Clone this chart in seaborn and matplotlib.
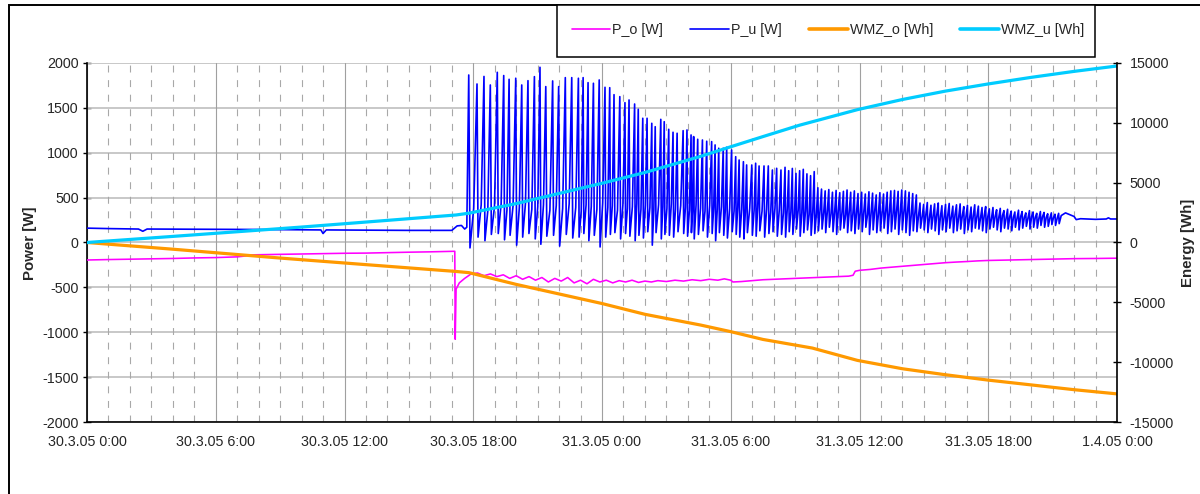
import numpy as np
import pandas as pd
import matplotlib
matplotlib.use("Agg")
import matplotlib.pyplot as plt
from matplotlib.patches import Rectangle
from matplotlib.lines import Line2D
import seaborn as sns

# ---------------------------------------------------------------------------
# Axis ticks (time in hours since 30.3.05 0:00)
# ---------------------------------------------------------------------------
x_tick_hours = [0, 6, 12, 18, 24, 30, 36, 42, 48]
x_tick_labels = ["30.3.05 0:00", "30.3.05 6:00", "30.3.05 12:00", "30.3.05 18:00",
                 "31.3.05 0:00", "31.3.05 6:00", "31.3.05 12:00", "31.3.05 18:00",
                 "1.4.05 0:00"]
power_ticks = [-2000, -1500, -1000, -500, 0, 500, 1000, 1500, 2000]
energy_ticks = [-15000, -10000, -5000, 0, 5000, 10000, 15000]

# ---------------------------------------------------------------------------
# P_o [W]
# ---------------------------------------------------------------------------
p_o_hours = [0, 1, 2, 3, 4, 5, 6, 7, 7.4, 7.6, 9, 10, 11, 12, 13, 14, 15, 16, 17.1,
             17.14, 17.16, 17.2, 17.35, 17.6, 17.9, 18.2, 18.5, 18.8, 19.1, 19.4,
             19.7, 20.0, 20.3, 20.6, 20.9, 21.2, 21.5, 21.8, 22.1, 22.4, 22.7, 23.0,
             23.3, 23.6, 23.9, 24.2, 24.5, 24.8, 25.1, 25.4, 25.7, 26.0, 26.3, 26.6,
             27.0, 27.4, 27.8, 28.2, 28.6, 29.0, 29.4, 29.7, 30.0, 30.1, 30.5, 31.0,
             31.5, 32.0, 32.5, 33.0, 33.5, 34.0, 34.5, 35.0, 35.5, 35.7, 35.8, 36.0,
             36.5, 37.0, 37.5, 38.0, 38.5, 39.0, 39.5, 40.0, 40.5, 41.0, 41.5, 42.0,
             43.0, 44.0, 45.0, 46.0, 47.0, 48.0]
p_o_watts = [-195, -190, -186, -182, -178, -172, -168, -160, -150, -138, -132, -128,
             -124, -120, -118, -113, -108, -104, -98,
             -98, -1078, -520, -450, -400, -350, -340, -370, -350, -380, -360,
             -400, -370, -410, -380, -420, -390, -440, -400, -430, -390, -450, -420,
             -460, -410, -440, -420, -450, -425, -440, -420, -445, -430, -440, -425,
             -435, -420, -430, -415, -425, -410, -420, -405, -420, -440, -435, -425,
             -415, -410, -405, -400, -395, -390, -385, -380, -375, -365, -320, -310,
             -300, -285, -275, -265, -255, -245, -235, -225, -218, -212, -205, -200,
             -195, -190, -185, -180, -178, -175]

# ---------------------------------------------------------------------------
# P_u [W]: steady part, then one peak/trough/mid triple per oscillation
# ---------------------------------------------------------------------------
p_u_pre_hours = [0.0, 1.0, 2.4, 2.6, 2.8, 5.0, 8.0, 10.9, 11.0, 11.15, 13.0, 15.0,
                 17.0, 17.25, 17.45, 17.6, 17.7]
p_u_pre_watts = [160, 155, 150, 125, 150, 148, 145, 140, 100, 140, 138, 135,
                 135, 185, 190, 150, 170]

p_u_peak_hours = [17.79, 18.175, 18.50, 18.795, 19.12, 19.42, 19.67, 19.98, 20.26,
                  20.55, 20.85, 21.11, 21.38, 21.70, 21.98, 22.29, 22.59, 22.90,
                  23.12, 23.35, 23.60, 23.87, 24.14, 24.36, 24.56, 24.83, 25.07,
                  25.26, 25.52, 25.69, 25.90, 26.10, 26.32, 26.48, 26.74, 26.90,
                  27.11, 27.31, 27.50, 27.78, 27.96, 28.15, 28.27, 28.46, 28.68,
                  28.88, 29.11, 29.27, 29.44, 29.65, 29.81, 30.04, 30.23, 30.39,
                  30.59, 30.74, 30.98, 31.16, 31.32, 31.55, 31.75, 31.94, 32.14,
                  32.34, 32.53,
                  32.70, 32.87, 33.04, 33.21, 33.38, 33.55, 33.72, 33.89, 34.06,
                  34.23, 34.40, 34.57, 34.74, 34.91, 35.08, 35.25, 35.42, 35.59,
                  35.76, 35.93, 36.10, 36.27, 36.44, 36.61, 36.78, 36.95, 37.12,
                  37.29, 37.46, 37.63, 37.80, 37.97, 38.14, 38.31, 38.48, 38.65,
                  38.82, 38.99, 39.16, 39.33, 39.50, 39.67, 39.84, 40.01, 40.18,
                  40.35, 40.52, 40.69, 40.86, 41.03, 41.20, 41.37, 41.54, 41.71,
                  41.88, 42.05, 42.22, 42.39, 42.56, 42.73, 42.90, 43.07, 43.24,
                  43.41, 43.58, 43.75, 43.92, 44.09, 44.26, 44.43, 44.60, 44.77,
                  44.94, 45.11, 45.28]
p_u_peak_watts = [1866, 1766, 1850, 1755, 1896, 1860, 1818, 1830, 1755, 1803, 1848,
                  1952, 1737, 1800, 1737, 1837, 1837, 1830, 1837, 1781, 1774, 1811,
                  1729, 1725, 1647, 1625, 1558, 1588, 1543, 1484, 1384, 1384, 1328,
                  1290, 1372, 1346, 1261, 1228, 1217, 1246, 1254, 1198, 1180, 1150,
                  1142, 1128, 1124, 1087, 1050, 1050, 1061, 1031, 956, 919, 900,
                  864, 864, 883, 853, 853, 853, 808, 827, 808, 838,
                  800, 825, 770, 800, 815, 765, 745, 790, 610, 595, 575, 590, 560,
                  580, 555, 570, 585, 560, 575, 545, 560, 540, 565, 550, 530, 555,
                  540, 560, 575, 580, 570, 585, 575, 560, 545, 530, 440, 425, 445,
                  415, 430, 440, 410, 425, 435, 405, 420, 430, 400, 415, 395, 420,
                  405, 390, 400, 375, 390, 365, 380, 355, 370, 350, 340, 360, 345,
                  330, 355, 340, 325, 345, 335, 320, 330, 315, 325]
p_u_trough_watts = [-60, 60, 20, 90, 100, 30, 80, -30, 60, 100, 40, -20, 70, 80,
                    -40, 90, 50, 60, 100, 20, 80, -50, 60, 90, 110, 40, 100, 70,
                    20, 80, 50, 120, -30, 110, 40, 90, 80, 60, 120, 100, 70, 110,
                    40, 90, 130, 60, 100, 20, 110, 80, 50, 120, 90, 60, 40, 110,
                    80, 70, 130, 60, 100, 120, 70, 90, 60,
                    120, 90, 150, 70, 110, 140, 80, 100, 130, 150, 110, 170, 120,
                    90, 140, 160, 110, 130, 100, 150, 120, 170, 90, 140, 110, 130,
                    160, 100, 120, 150, 90, 140, 110, 80, 130, 120, 160, 140, 110,
                    150, 130, 90, 140, 120, 160, 110, 130, 150, 100, 140, 120, 160,
                    150, 130, 110, 150, 170, 140, 120, 160, 150, 130, 170, 140, 160,
                    180, 150, 170, 160, 190, 170, 180, 200, 190, 210]
p_u_mid_watts = [380, 420, 350, 400, 430, 360, 410, 390, 440, 370, 400, 420, 360,
                 410, 380, 430, 390, 350, 420, 400, 370, 440, 390, 410, 360, 420,
                 380, 400, 430, 370, 410, 390, 360, 420, 400, 380, 430, 370, 410,
                 390, 360, 400, 420, 380, 350, 410, 390, 370, 400, 360, 380, 350,
                 390, 370, 340, 380, 360, 390, 350, 370, 340, 380, 360, 330, 370,
                 340, 320, 360, 330, 350, 310, 340, 320, 360, 330, 350, 320, 340,
                 360, 330, 310, 350, 320, 340, 330, 350, 310, 340, 360, 320, 330,
                 350, 340, 320, 360, 330, 350, 340, 310, 330, 300, 290, 310, 280,
                 300, 310, 290, 280, 300, 290, 310, 280, 300, 290, 270, 300, 290,
                 280, 300, 290, 270, 290, 280, 300, 270, 290, 280, 270, 290, 280,
                 270, 290, 280, 270, 290, 280, 270, 280, 270, 280]

p_u_tail_hours = [45.4, 45.6, 45.8, 46.0, 46.1, 46.3, 46.6, 47.0, 47.5, 47.6, 47.7, 48.0]
p_u_tail_watts = [300, 330, 310, 290, 255, 265, 262, 258, 262, 275, 262, 262]

# ---------------------------------------------------------------------------
# Heat meter readings [Wh]
# ---------------------------------------------------------------------------
wmz_o_hours = [0, 4, 9, 13, 17.2, 17.8, 20, 24, 26, 28.6, 30, 31.5, 33.8, 35.9,
               38, 40, 42, 44, 46, 48]
wmz_o_wh = [0, -560, -1300, -1850, -2420, -2520, -3500, -5100, -6000, -6900, -7450,
            -8100, -8820, -9850, -10550, -11050, -11500, -11900, -12300, -12650]

wmz_u_hours = [0, 4, 7, 10, 13.65, 17.2, 17.8, 20, 24, 26, 28.6, 30, 31.5, 33.2,
               35.9, 38, 40, 42, 44, 46, 48]
wmz_u_wh = [0, 510, 900, 1290, 1800, 2300, 2450, 3250, 4950, 5850, 7200, 8000,
            8850, 9800, 11100, 11950, 12650, 13250, 13800, 14300, 14750]

# ---------------------------------------------------------------------------
# Assemble the oscillating P_u trace
# ---------------------------------------------------------------------------
pu_t = list(p_u_pre_hours)
pu_v = list(p_u_pre_watts)
n_cycles = len(p_u_peak_hours)
for i in range(n_cycles):
    t0 = p_u_peak_hours[i]
    span = (p_u_peak_hours[i + 1] - t0) if i + 1 < n_cycles else 0.17
    pu_t += [t0, t0 + 0.15 * span, t0 + 0.6 * span]
    pu_v += [p_u_peak_watts[i], p_u_trough_watts[i], p_u_mid_watts[i]]
pu_t += p_u_tail_hours
pu_v += p_u_tail_watts

df_po = pd.DataFrame({"t": p_o_hours, "v": p_o_watts})
df_pu = pd.DataFrame({"t": pu_t, "v": pu_v})
df_wo = pd.DataFrame({"t": wmz_o_hours, "v": wmz_o_wh})
df_wu = pd.DataFrame({"t": wmz_u_hours, "v": wmz_u_wh})

# ---------------------------------------------------------------------------
# Styling
# ---------------------------------------------------------------------------
sns.set_style("white")
plt.rcParams["font.family"] = ["Liberation Sans", "DejaVu Sans"]
plt.rcParams["lines.scale_dashes"] = False

C_PO, C_PU, C_WO, C_WU = "#FF00FF", "#0000FF", "#FF9900", "#00CCFF"
FS = 10.3

W, H = 1200, 494
fig = plt.figure(figsize=(12, 4.94), dpi=100)
L, R, T, B = 87, 1117, 63, 422
ax = fig.add_axes([L / W, 1 - B / H, (R - L) / W, (B - T) / H])
ax.set_facecolor("white")

sns.lineplot(data=df_po, x="t", y="v", ax=ax, color=C_PO, lw=1.15,
             estimator=None, sort=False, zorder=3)
sns.lineplot(data=df_pu, x="t", y="v", ax=ax, color=C_PU, lw=1.2,
             estimator=None, sort=False, zorder=3)

ax.set_xlim(0, 48)
ax.set_ylim(-2000, 2000)
ax.set_xticks(x_tick_hours)
ax.set_xticklabels(x_tick_labels, fontsize=FS)
ax.set_xticks(range(0, 49), minor=True)
ax.set_yticks(power_ticks)
ax.set_yticklabels([str(v) for v in power_ticks], fontsize=FS)
ax.set_xlabel("")
ax.set_ylabel("")

ax.grid(False)
for v in power_ticks:
    ax.axhline(v, color="#C4C4C4", lw=1.3, zorder=1)
for h in range(0, 49):
    if h % 6 == 0:
        ax.axvline(h, color="#A0A0A0", lw=0.8, zorder=1)
    else:
        ax.axvline(h, color="#A8A8A8", lw=0.8, ls=(0, (5, 5.5)), zorder=1)

ax.tick_params(axis="x", which="major", direction="inout", length=6, width=1,
               color="black", pad=6)
ax.tick_params(axis="x", which="minor", length=0)
ax.tick_params(axis="y", direction="inout", length=6, width=1, color="black", pad=3)
for side in ["left", "bottom"]:
    ax.spines[side].set_color("black")
    ax.spines[side].set_linewidth(1.2)
ax.spines["top"].set_visible(False)
ax.spines["right"].set_visible(False)

ax2 = ax.twinx()
sns.lineplot(data=df_wo, x="t", y="v", ax=ax2, color=C_WO, lw=2.3,
             estimator=None, sort=False)
sns.lineplot(data=df_wu, x="t", y="v", ax=ax2, color=C_WU, lw=2.3,
             estimator=None, sort=False)
ax2.set_ylim(-15000, 15000)
ax2.set_yticks(energy_ticks)
ax2.set_yticklabels([str(v) for v in energy_ticks], fontsize=FS)
ax2.set_ylabel("")
ax2.set_xlabel("")
ax2.grid(False)
ax2.tick_params(axis="y", direction="inout", length=6, width=1, color="black", pad=6)
ax2.spines["right"].set_color("black")
ax2.spines["right"].set_linewidth(1.2)
for side in ["top", "left", "bottom"]:
    ax2.spines[side].set_visible(False)

# axis titles
fig.text(30 / W, 1 - 243 / H, "Power [W]", rotation=90, fontsize=FS + 0.5,
         fontweight="bold", ha="center", va="center")
fig.text(1188 / W, 1 - 243 / H, "Energy [Wh]", rotation=90, fontsize=FS + 0.5,
         fontweight="bold", ha="center", va="center")

# chart frame
fig.add_artist(Rectangle((9 / W, -0.1), 1.2, 1 - 5.5 / H + 0.1,
                         transform=fig.transFigure, fill=False, ec="black", lw=1.4))

# legend box
fig.add_artist(Rectangle((557 / W, 1 - 57 / H), (1095 - 557) / W, (57 - 5.5) / H,
                         transform=fig.transFigure, fill=True, fc="white",
                         ec="black", lw=1.1, zorder=5))
handles = [Line2D([], [], color=C_PO, lw=1.2), Line2D([], [], color=C_PU, lw=1.2),
           Line2D([], [], color=C_WO, lw=2.6), Line2D([], [], color=C_WU, lw=2.6)]
labels = ["P_o [W]", "P_u [W]", "WMZ_o [Wh]", "WMZ_u [Wh]"]
leg = fig.legend(handles, labels, ncol=4, loc="center",
                 bbox_to_anchor=(828 / W, 1 - 30 / H), frameon=False,
                 fontsize=FS, handlelength=2.7, handletextpad=0.15,
                 columnspacing=1.9)
leg.set_zorder(6)

fig.savefig("out.png", dpi=100, facecolor="white")
